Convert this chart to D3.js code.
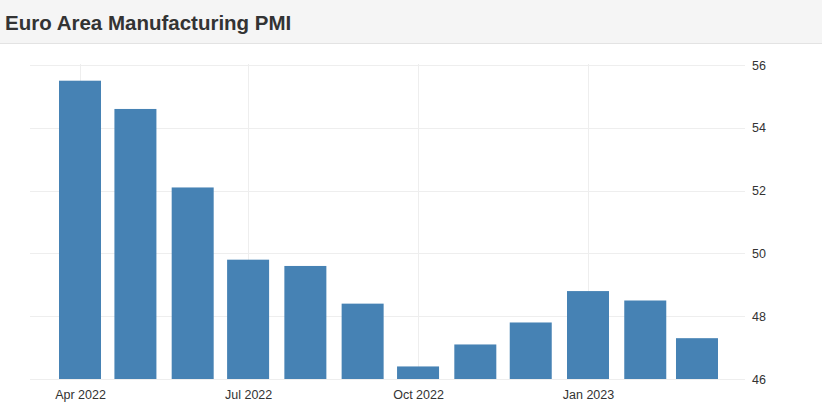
<!DOCTYPE html>
<html>
<head>
<meta charset="utf-8">
<script src="https://cdn.jsdelivr.net/npm/d3@7"></script>
<style>
    body { margin: 0; background: #fff; font-family: "Liberation Sans", Arial, sans-serif; }
    svg { display: block; }
</style>
</head>
<body>
<div id="chart"></div>
<script>
const TITLE = 'Euro Area Manufacturing PMI';
const MONTHS = ['2022-04', '2022-05', '2022-06', '2022-07', '2022-08', '2022-09',
                '2022-10', '2022-11', '2022-12', '2023-01', '2023-02', '2023-03'];
const PMI = [55.5, 54.6, 52.1, 49.8, 49.6, 48.4, 46.4, 47.1, 47.8, 48.8, 48.5, 47.3];
const Y_TICKS = [46, 48, 50, 52, 54, 56];

const parseMonth = d3.timeParse('%Y-%m');
const data = MONTHS.map((m, i) => ({ date: parseMonth(m), value: PMI[i] }));

const width = 822, height = 417;
const plot = { left: 30, right: 745, top: 64, bottom: 379 };
const barWidth = 42;

const svg = d3.select('#chart')
    .append('svg')
    .attr('width', width)
    .attr('height', height);

// Title bar
svg.append('rect')
    .attr('x', 0).attr('y', 0)
    .attr('width', width).attr('height', 43)
    .attr('fill', '#f5f5f5');
svg.append('line')
    .attr('x1', 0).attr('x2', width)
    .attr('y1', 43.5).attr('y2', 43.5)
    .style('stroke', '#e3e3e3');
svg.append('text')
    .attr('x', 5)
    .attr('y', 30)
    .style('font-size', '20.5px')
    .style('font-weight', 'bold')
    .style('fill', '#333')
    .text(TITLE);

const xScale = d3.scaleTime()
    .domain([parseMonth('2022-04'), parseMonth('2023-01')])
    .range([80, 588]);

const yScale = d3.scaleLinear()
    .domain([46, 56])
    .range([plot.bottom, plot.top + 1]);

const xTicks = d3.timeMonth.every(3).range(parseMonth('2022-04'), parseMonth('2023-04'));

// Grid
svg.append('g')
    .selectAll('line')
    .data(Y_TICKS)
    .enter()
    .append('line')
    .attr('x1', plot.left)
    .attr('x2', plot.right)
    .attr('y1', d => Math.round(yScale(d)) + 0.5)
    .attr('y2', d => Math.round(yScale(d)) + 0.5)
    .style('stroke', '#eeeeee');

svg.append('g')
    .selectAll('line')
    .data(xTicks)
    .enter()
    .append('line')
    .attr('x1', d => Math.round(xScale(d)) + 0.5)
    .attr('x2', d => Math.round(xScale(d)) + 0.5)
    .attr('y1', plot.top)
    .attr('y2', plot.bottom)
    .style('stroke', '#eeeeee');

// Bars
svg.selectAll('.bar')
    .data(data)
    .enter()
    .append('rect')
    .attr('class', 'bar')
    .attr('x', d => xScale(d.date) - barWidth / 2)
    .attr('y', d => yScale(d.value))
    .attr('width', barWidth)
    .attr('height', d => yScale(46) - yScale(d.value))
    .attr('fill', '#4682b4');

// Axes
const xAxis = d3.axisBottom(xScale)
    .tickValues(xTicks)
    .tickFormat(d3.timeFormat('%b %Y'))
    .tickSize(0)
    .tickPadding(11);

svg.append('g')
    .attr('transform', `translate(0,${plot.bottom})`)
    .call(xAxis)
    .call(g => g.select('.domain').remove())
    .selectAll('text')
    .style('font-family', '"Liberation Sans", Arial, sans-serif')
    .style('font-size', '12.5px')
    .style('fill', '#333');

const yAxis = d3.axisRight(yScale)
    .tickValues(Y_TICKS)
    .tickSize(0)
    .tickPadding(7);

svg.append('g')
    .attr('transform', `translate(${plot.right},0)`)
    .call(yAxis)
    .call(g => g.select('.domain').remove())
    .selectAll('text')
    .style('font-family', '"Liberation Sans", Arial, sans-serif')
    .style('font-size', '12.5px')
    .style('fill', '#333');
</script>
</body>
</html>
